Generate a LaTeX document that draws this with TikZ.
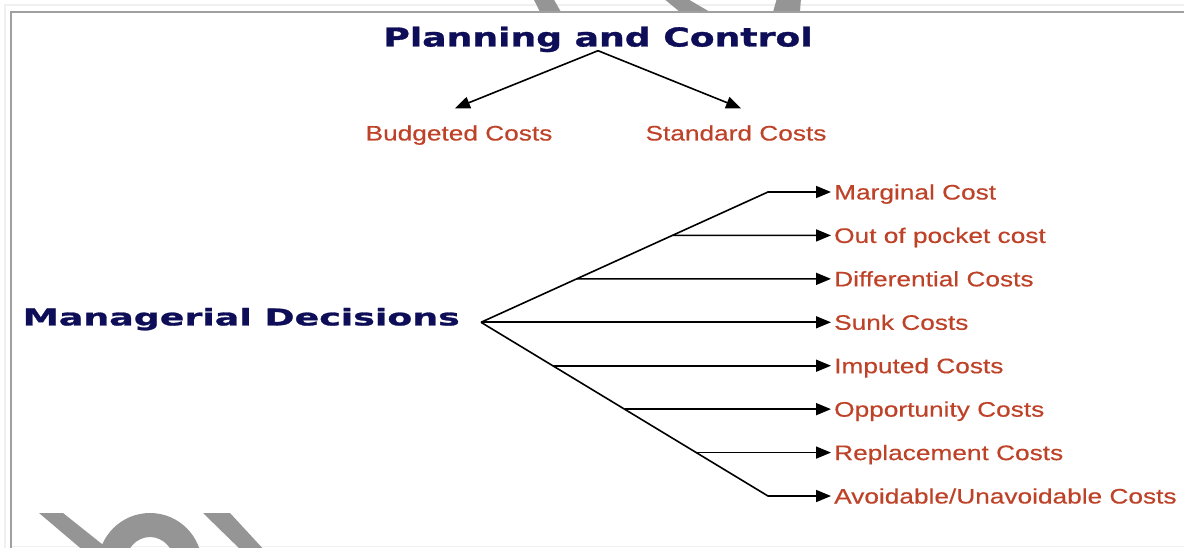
\documentclass[tikz,border=0pt]{standalone}
\usepackage{fontspec}
\usetikzlibrary{positioning,calc,arrows.meta}
\newfontfamily\titlefont{DejaVu Sans Bold}[FakeStretch=1.39,FakeBold=1.2]
\newfontfamily\mdfont{DejaVu Sans Bold}[FakeStretch=1.58,FakeBold=1.2]
\newfontfamily\costfont{Liberation Sans}[FakeStretch=1.25,FakeBold=0.4]
\definecolor{headblue}{HTML}{0E0E58}
\definecolor{costred}{HTML}{BE4228}
\definecolor{framegray}{HTML}{A0A0A0}
\definecolor{markgray}{HTML}{959595}
\tikzset{headline/.style={inner sep=0pt, text height=19pt, text depth=0pt, text=headblue, font=\titlefont\fontsize{26}{30}\selectfont}}
\tikzset{mdhead/.style={inner sep=0pt, text height=16.8pt, text depth=0pt, text=headblue, font=\mdfont\fontsize{23}{27}\selectfont}}
\tikzset{costlabel/.style={inner sep=3pt, text height=15pt, text depth=0pt, text=costred, font=\costfont\fontsize{21}{24}\selectfont}}
\tikzset{branch/.style={draw, line width=1.6pt, -{Triangle[length=15pt,width=12pt]}}}

\begin{document}
\begin{tikzpicture}[x=1pt,y=-1pt]
	\useasboundingbox (0,0) rectangle (1184,548);
	% frame
	\draw[gray!12, line width=1.5pt] (5,548) -- (5,5) -- (1184,5);
	\draw[gray!12, line width=1.5pt] (10,546.5) -- (1184,546.5);
	% watermark
	\begin{scope}
		\clip (0,0) rectangle (1184,548);
		\fill[markgray] (533,-2) -- (553,-2) -- (561,12) -- (540,12) -- cycle;
		\fill[markgray] (663,-2) -- (686,-2) -- (710,12) -- (680,12) -- cycle;
		\fill[markgray] (777,-2) -- (801,-2) -- (800,12) -- (773,12) -- cycle;
		\fill[markgray] (39,513) -- (63,513) -- (112,552) -- (85,552) -- cycle;
		\fill[markgray, even odd rule] (150,565) ellipse [x radius=52, y radius=52]
			(150,565) ellipse [x radius=25, y radius=28];
		\fill[markgray] (203,513) -- (230,513) -- (266,552) -- (243,552) -- cycle;
	\end{scope}
	\draw[framegray, line width=2pt] (11,548) -- (11,12) -- (1184,12);
	%
	\node[headline] (pc) at (598,37) {Planning and Control};
	\coordinate (apex) at ([yshift=-4pt]pc.south);
	\node[costlabel] (bc) at (459,133) {Budgeted Costs};
	\node[costlabel] (sc) at (736,133) {Standard Costs};
	\draw[branch] (apex) -- ([xshift=-4pt,yshift=14pt]bc.north);
	\draw[branch] (apex) -- ([xshift=5pt,yshift=14pt]sc.north);
	%
	\foreach \txt [count=\k] in {Marginal Cost, Out of pocket cost, Differential Costs, Sunk Costs, Imputed Costs, Opportunity Costs, Replacement Costs, {Avoidable/Unavoidable Costs}}
		\node[costlabel, anchor=west] (c\k) at (831,{192+43.43*(\k-1)}) {\txt};
	\node[mdhead, anchor=east] (md) at (460,317) {Managerial Decisions};
	\coordinate (hub) at ([xshift=-350pt]c4.west);
	\coordinate (up) at ([xshift=-63pt]c1.west);
	\coordinate (dn) at ([xshift=-63pt]c8.west);
	\draw[branch] (hub) -- (up) -- (c1.west);
	\draw[branch] (hub) -- (c4.west);
	\draw[branch] (hub) -- (dn) -- (c8.west);
	\foreach \k/\f/\e in {2/0.667/up, 3/0.333/up, 5/0.25/dn, 6/0.5/dn, 7/0.75/dn}
		\draw[branch] ($(hub)!\f!(\e)$) -- (c\k.west);
\end{tikzpicture}
\end{document}
